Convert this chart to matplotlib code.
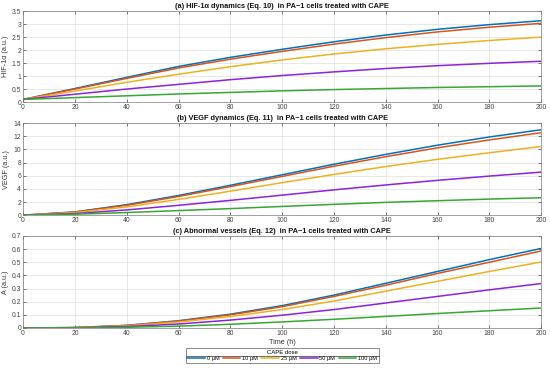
import matplotlib
matplotlib.use("Agg")
import matplotlib.pyplot as plt
from matplotlib.lines import Line2D

t = [0, 20, 40, 60, 80, 100, 120, 140, 160, 180, 200]
doses = ["0 μM", "10 μM", "25 μM", "50 μM", "100 μM"]
colors = ["#0072BD", "#D95319", "#EDB120", "#8A22DE", "#35A832"]

hif = [
    [0.1, 0.52, 0.95, 1.37, 1.72, 2.03, 2.32, 2.58, 2.80, 2.98, 3.13],
    [0.1, 0.50, 0.91, 1.31, 1.65, 1.95, 2.23, 2.48, 2.70, 2.88, 3.03],
    [0.1, 0.42, 0.76, 1.07, 1.36, 1.62, 1.85, 2.05, 2.22, 2.37, 2.50],
    [0.1, 0.30, 0.50, 0.68, 0.86, 1.02, 1.16, 1.29, 1.40, 1.49, 1.57],
    [0.1, 0.17, 0.24, 0.31, 0.37, 0.43, 0.48, 0.52, 0.56, 0.59, 0.62],
]
vegf = [
    [0, 0.5, 1.6, 3.0, 4.55, 6.15, 7.75, 9.25, 10.65, 11.9, 13.0],
    [0, 0.47, 1.5, 2.85, 4.35, 5.9, 7.45, 8.9, 10.25, 11.45, 12.55],
    [0, 0.4, 1.25, 2.4, 3.65, 4.95, 6.2, 7.4, 8.5, 9.5, 10.45],
    [0, 0.25, 0.8, 1.5, 2.25, 3.05, 3.85, 4.6, 5.3, 5.95, 6.55],
    [0, 0.15, 0.4, 0.7, 1.0, 1.33, 1.65, 1.95, 2.2, 2.45, 2.65],
]
vessels = [
    [0, 0.003, 0.02, 0.055, 0.105, 0.17, 0.25, 0.34, 0.43, 0.52, 0.605],
    [0, 0.003, 0.019, 0.052, 0.10, 0.162, 0.24, 0.325, 0.415, 0.50, 0.586],
    [0, 0.002, 0.016, 0.045, 0.087, 0.14, 0.205, 0.28, 0.355, 0.43, 0.502],
    [0, 0.002, 0.011, 0.030, 0.060, 0.097, 0.14, 0.19, 0.24, 0.29, 0.338],
    [0, 0.001, 0.005, 0.014, 0.028, 0.046, 0.066, 0.088, 0.11, 0.131, 0.152],
]

panels = [
    (hif, "HIF-1α (a.u.)", "(a) HIF-1α dynamics (Eq. 10)  in PA−1 cells treated with CAPE",
     (0, 3.5), [0, 0.5, 1, 1.5, 2, 2.5, 3, 3.5], ["0", "0.5", "1", "1.5", "2", "2.5", "3", "3.5"]),
    (vegf, "VEGF (a.u.)", "(b) VEGF dynamics (Eq. 11)  in PA−1 cells treated with CAPE",
     (0, 14), [0, 2, 4, 6, 8, 10, 12, 14], ["0", "2", "4", "6", "8", "10", "12", "14"]),
    (vessels, "A (a.u.)", "(c) Abnormal vessels (Eq. 12)  in PA−1 cells treated with CAPE",
     (0, 0.7), [0, 0.1, 0.2, 0.3, 0.4, 0.5, 0.6, 0.7], ["0", "0.1", "0.2", "0.3", "0.4", "0.5", "0.6", "0.7"]),
]
xticks = [0, 20, 40, 60, 80, 100, 120, 140, 160, 180, 200]

plt.rcParams['font.family'] = ['Liberation Sans', 'DejaVu Sans']
fig = plt.figure(figsize=(5.5, 3.71), dpi=100)
rects = [(0.042, 0.725, 0.942, 0.245), (0.042, 0.420, 0.942, 0.248), (0.042, 0.116, 0.942, 0.248)]
for i, (data, ylab, title, ylim, yt, ytl) in enumerate(panels):
    ax = fig.add_axes(rects[i])
    for k, series in enumerate(data):
        ax.plot(t, series, color=colors[k], lw=1.1, label=doses[k])
    ax.set_xlim(0, 200)
    ax.set_ylim(*ylim)
    ax.set_xticks(xticks)
    ax.set_xticklabels([str(v) for v in xticks])
    ax.set_yticks(yt)
    ax.set_yticklabels(ytl)
    ax.grid(True, color="#dedede", lw=0.5)
    ax.set_axisbelow(True)
    ax.tick_params(direction="in", length=2.5, width=0.5, labelsize=4.9, colors="#444444",
                   top=True, right=True, pad=1.5)
    for s in ax.spines.values():
        s.set_color("#7a7a7a")
        s.set_linewidth(0.5)
    ax.set_ylabel(ylab, fontsize=5.2, color="#333333", labelpad=2)
    ax.set_title(title, fontsize=5.3, fontweight="bold", pad=2, color="#111111")
    if i == 2:
        ax.set_xlabel("Time (h)", fontsize=5.2, color="#333333", labelpad=1.5)
        leg = ax.legend(loc="upper center", bbox_to_anchor=(0.5, -0.22), ncol=5,
                        fontsize=4.1, title="CAPE dose", title_fontsize=4.3,
                        frameon=True, fancybox=False, edgecolor="#333333",
                        handlelength=3.1, handletextpad=0.3, columnspacing=0.6,
                        borderpad=0.3, labelspacing=0.2, borderaxespad=0)
        leg.get_frame().set_linewidth(0.5)
        for h in leg.get_lines():
            h.set_linewidth(1.1)

fig.canvas.draw()
bb = leg.get_window_extent().transformed(fig.transFigure.inverted())
tb = leg.get_title().get_window_extent().transformed(fig.transFigure.inverted())
yline = tb.y0 - 0.004
fig.add_artist(Line2D([bb.x0, bb.x1], [yline, yline], transform=fig.transFigure,
                      color="#333333", lw=0.5))
fig.savefig("out.png", dpi=100)
